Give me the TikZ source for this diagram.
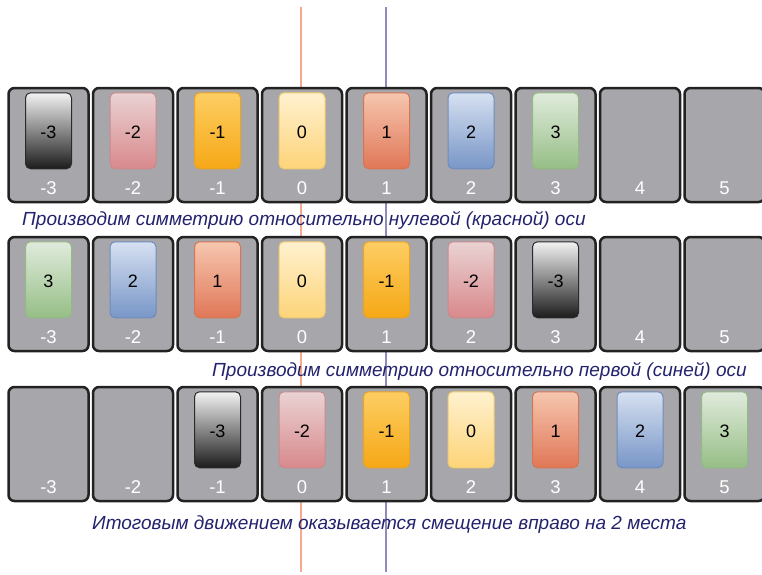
\documentclass[tikz,border=0pt]{standalone}
\usepackage{fontspec}
\setmainfont{Liberation Sans}
\usetikzlibrary{calc}
\definecolor{slotfill}{HTML}{A7A7AB}
\definecolor{slotedge}{HTML}{222222}
\definecolor{capcol}{HTML}{23226E}
\definecolor{axisred}{HTML}{F6A98E}
\definecolor{axisblue}{HTML}{8F8CBC}
% card colours: top, bottom, border
\definecolor{cAt}{HTML}{F2F2F2}\definecolor{cAb}{HTML}{1C1C1C}\definecolor{cAe}{HTML}{2A2A2A}
\definecolor{cBt}{HTML}{EAD2D3}\definecolor{cBb}{HTML}{D8898C}\definecolor{cBe}{HTML}{C98A8D}
\definecolor{cCt}{HTML}{FDCE63}\definecolor{cCb}{HTML}{F6A816}\definecolor{cCe}{HTML}{E9A425}
\definecolor{cDt}{HTML}{FFF1CF}\definecolor{cDb}{HTML}{FDD479}\definecolor{cDe}{HTML}{F0CB6E}
\definecolor{cEt}{HTML}{F6C6AF}\definecolor{cEb}{HTML}{E07757}\definecolor{cEe}{HTML}{D57556}
\definecolor{cFt}{HTML}{D6E0F1}\definecolor{cFb}{HTML}{7896C7}\definecolor{cFe}{HTML}{6F8BBB}
\definecolor{cGt}{HTML}{E0EBDC}\definecolor{cGb}{HTML}{96BE86}\definecolor{cGe}{HTML}{93B985}
\begin{document}
\begin{tikzpicture}[x=1pt,y=-1pt,
  slotbox/.style={draw=slotedge,fill=slotfill,line width=2.5pt,rounded corners=6pt,
    minimum width=80pt,minimum height=114pt,inner sep=0pt},
  cardbox/.style={line width=1pt,rounded corners=5pt,minimum width=46pt,minimum height=76pt,inner sep=0pt},
  cardnum/.style={font=\fontsize{18}{18}\selectfont,text=black,inner sep=0pt},
  slotnum/.style={font=\fontsize{18.5}{18.5}\selectfont,text=white,inner sep=0pt},
  caption/.style={font=\fontsize{19}{20}\selectfont\itshape,text=capcol,inner sep=0pt,anchor=west},
  axisline/.style={line width=2.6pt}]
\useasboundingbox (0,0) rectangle (762,574);
\clip (0,0) rectangle (762,574);
% axes
\coordinate (rtop) at (301,7);
\coordinate (rbot) at (301,572);
\coordinate (btop) at (386,7);
\coordinate (bbot) at (386,572);
\draw[axisline,axisred] (rtop) -- (rbot);
\draw[axisline,axisblue] (btop) -- (bbot);
% slots
\foreach \r/\top in {1/87,2/236,3/386}{
  \foreach \i/\lab in {1/-3,2/-2,3/-1,4/0,5/1,6/2,7/3,8/4,9/5}{
    \node[slotbox] (s\r-\i) at ({48.5+84.5*(\i-1)},{\top+58}) {};
    \node[slotnum] (l\r-\i) at ({48.5+84.5*(\i-1)},{\top+101}) {\lab};
  }
}
% cards: row, slot, colour key, value
\foreach \r/\i/\k/\v in {
  1/1/A/-3,1/2/B/-2,1/3/C/-1,1/4/D/0,1/5/E/1,1/6/F/2,1/7/G/3,
  2/1/G/3,2/2/F/2,2/3/E/1,2/4/D/0,2/5/C/-1,2/6/B/-2,2/7/A/-3,
  3/3/A/-3,3/4/B/-2,3/5/C/-1,3/6/D/0,3/7/E/1,3/8/F/2,3/9/G/3}{
  \node[cardbox,draw=c\k e,top color=c\k t,bottom color=c\k b] (c\r-\i) at ($(s\r-\i.north)+(0,44)$) {};
  \node[cardnum] (n\r-\i) at ($(c\r-\i.center)+(0,1.5)$) {\v};
}
% captions
\node[caption] (cap1) at (22,220) {Производим симметрию относительно нулевой (красной) оси};
\node[caption] (cap2) at (212,371) {Производим симметрию относительно первой (синей) оси};
\node[caption] (cap3) at (92,525) {Итоговым движением оказывается смещение вправо на 2 места};
\end{tikzpicture}
\end{document}
